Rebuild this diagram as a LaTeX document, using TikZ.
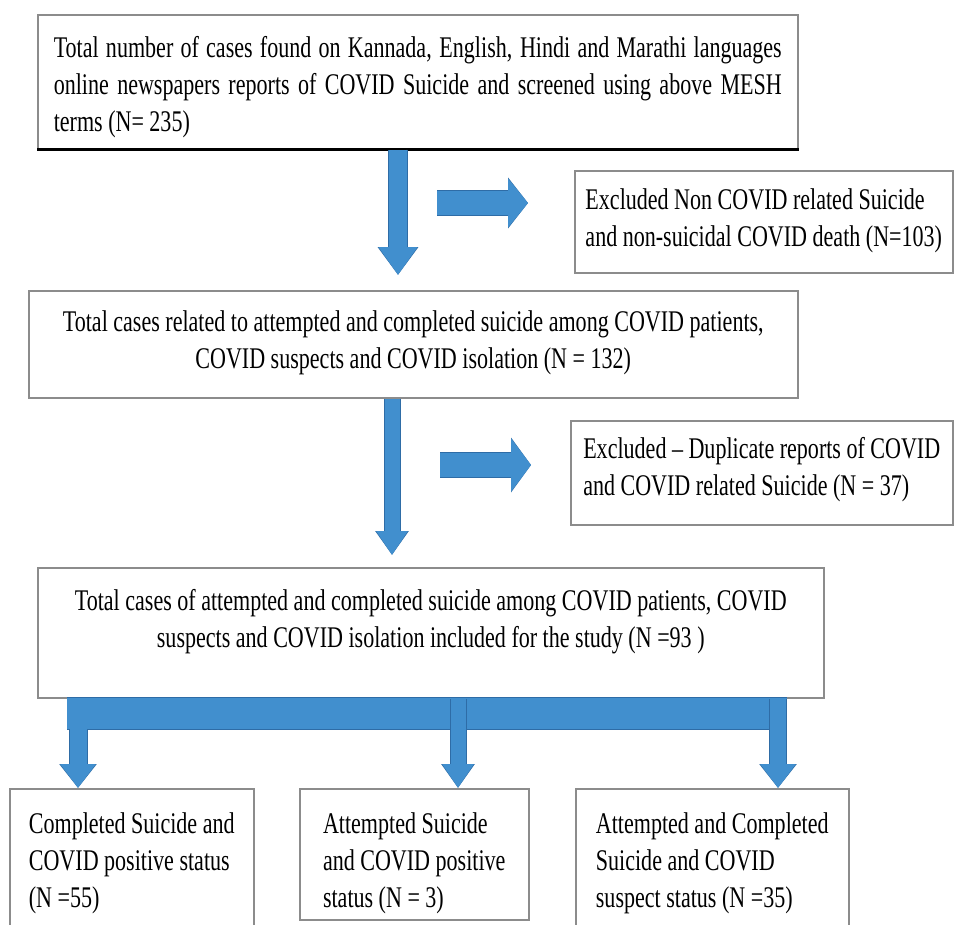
\documentclass[tikz,border=0pt]{standalone}
\usepackage{fontspec}
\setmainfont[FakeStretch=0.735]{Liberation Serif}
\usepackage{tikz}
\usetikzlibrary{arrows.meta}
\usepackage{xcolor}
\definecolor{arrowblue}{RGB}{65,143,206}
\definecolor{arrowedge}{RGB}{46,108,166}
\definecolor{boxgray}{RGB}{140,140,140}

\begin{document}
\begin{tikzpicture}[x=1pt, y=-1pt,
  box/.style={draw=boxgray, line width=1.5pt, rectangle, inner sep=0pt, font=\fontsize{30}{37}\selectfont},
  blockarrow/.style n args={3}{draw=arrowblue, line width=#1, -{Triangle[width=#2 1, length=#3 0]}, preaction={draw=arrowedge, line width=#1+2pt}},
  barline/.style={draw=arrowblue, line width=31pt, preaction={draw=arrowedge, line width=33pt}}
]
\useasboundingbox (0,0) rectangle (957,924);
\clip (0,0) rectangle (957,924);

\node[box, anchor=north west, minimum width=760pt, text width=728pt, align=justify, text height=43pt, text depth=91pt] (total_found) at (37,14)
  {Total number of cases found on Kannada, English, Hindi and Marathi languages\linebreak online newspapers reports of COVID Suicide and screened using above MESH\linebreak terms (N= 235)};
\draw[line width=3pt] (total_found.south west)--(total_found.south east);

\node[box, anchor=north west, minimum width=378pt, align=left, text height=76pt, text depth=26pt] (excl_noncovid) at (574,170)
  {Excluded Non COVID related Suicide\\and non-suicidal COVID death (N=103)};

\node[box, anchor=north west, minimum width=769pt, align=center, text height=78pt, text depth=29pt] (total_related) at (28,290)
  {Total cases related to attempted and completed suicide among COVID patients,\\COVID suspects and COVID isolation (N = 132)};

\node[box, anchor=north west, minimum width=382pt, align=left, text height=75pt, text depth=29pt] (excl_dup) at (570,420)
  {Excluded -- Duplicate reports of COVID\\and COVID related Suicide (N = 37)};

\node[box, anchor=north west, minimum width=786pt, align=center, text height=80pt, text depth=50pt] (total_incl) at (37,567)
  {Total cases of attempted and completed suicide among COVID patients, COVID\\suspects and COVID isolation included for the study (N =93 )};

\node[box, anchor=north west, minimum width=244pt, align=left, text height=119pt, text depth=34pt] (completed_pos) at (9,788)
  {Completed Suicide and\\COVID positive status\\(N =55)};
\node[box, anchor=north west, minimum width=229pt, align=left, text height=119pt, text depth=12pt] (attempted_pos) at (299,788)
  {Attempted Suicide\\and COVID positive\\status (N = 3)};
\node[box, anchor=north west, minimum width=273pt, align=left, text height=119pt, text depth=34pt] (both_suspect) at (575,788)
  {Attempted and Completed\\Suicide and COVID\\suspect status (N =35)};

% arrows between the boxes
\coordinate (d1) at (398,275);
\draw[blockarrow={18pt}{19pt}{28pt}] (d1 |- total_found.south)--(d1);
\coordinate (r1) at (437,203);
\draw[blockarrow={24pt}{24pt}{20pt}, shorten >=46pt] (r1)--(r1 -| excl_noncovid.west);

\coordinate (d2) at (392,555);
\draw[blockarrow={15pt}{15pt}{24pt}] (d2 |- total_related.south)--(d2);
\coordinate (r2) at (440,465);
\draw[blockarrow={24pt}{28pt}{20pt}, shorten >=39pt] (r2)--(r2 -| excl_dup.west);

% split bar
\coordinate (bar_l) at (67,713.5);
\coordinate (bar_r) at (787,713.5);
\draw[barline] (bar_l)--(bar_r);
\coordinate (s1) at (78,729);
\draw[blockarrow={17pt}{17pt}{24pt}] (s1)--(s1 |- completed_pos.north);
\coordinate (s2) at (458,0);
\draw[blockarrow={15pt}{15pt}{24pt}] (s2 |- total_incl.south)--(s2 |- attempted_pos.north);
\coordinate (s3) at (778,0);
\draw[blockarrow={16pt}{18pt}{24pt}] (s3 |- total_incl.south)--(s3 |- both_suspect.north);
\end{tikzpicture}
\end{document}
